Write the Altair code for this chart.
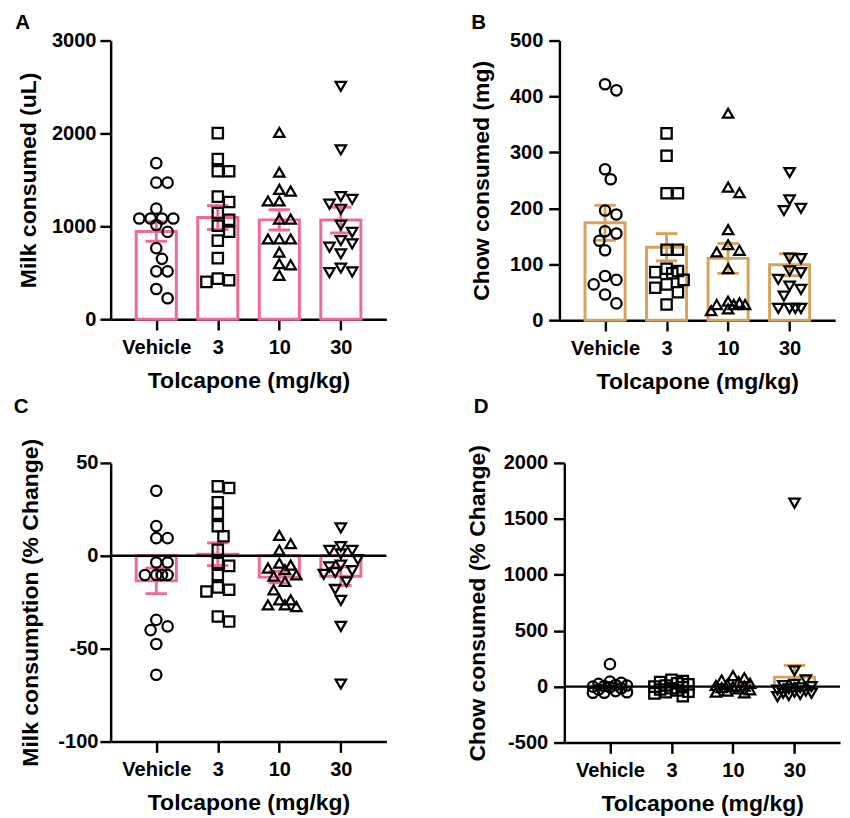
import altair as alt
import numpy as np
import pandas as pd

groups = ["Vehicle", "3", "10", "30"]
shapes = ["circle", "square", "triangle-up", "triangle-down"]
x_title = "Tolcapone (mg/kg)"

# Panel A: Milk consumed (uL)
milk_vehicle = [1680, 1470, 1470, 1190, 1085, 1085, 1085, 1085, 1015, 940, 765, 650, 515, 515, 325, 225]
milk_3 = [2003, 1725, 1593, 1593, 1320, 1262, 1142, 1070, 1006, 942, 846, 658, 437, 420, 402]
milk_10 = [2010, 1583, 1398, 1380, 1273, 1273, 1078, 1078, 864, 864, 864, 722, 598, 586, 473]
milk_30 = [2507, 1824, 1320, 1291, 1238, 1184, 1014, 935, 846, 811, 775, 704, 551, 509, 501]

# Panel B: Chow consumed (mg)
chow_vehicle = [422, 411, 270, 252, 196, 189, 159, 155, 142, 125, 79, 72, 64, 46, 30]
chow_3 = [334, 294, 227, 227, 126, 126, 92, 88, 86, 84, 72, 64, 58, 50, 28]
chow_10 = [370, 238, 228, 162, 135, 125, 122, 92, 34, 31, 28, 28, 28, 20, 17]
chow_30 = [264, 215, 200, 196, 111, 110, 88, 85, 73, 61, 55, 43, 21, 21, 21, 21]

# Panel C: Milk consumption (% Change)
milkpct_vehicle = [35, 16, 9.5, 9.5, -3.6, -3.6, -10.3, -10.3, -10.3, -10.3, -34.5, -38, -40, -47.5, -64]
milkpct_3 = [37.4, 36.5, 28.8, 22.7, 15.9, 10.5, 3.2, -3.9, -5.4, -10.3, -17, -18.3, -19.2, -32.7, -35.4]
milkpct_10 = [11, 6.5, 3, -4, -5, -6.6, -7.5, -10.3, -11, -13.8, -18.3, -23.7, -23.7, -26.4, -26.4, -27.3]
milkpct_30 = [15, 5, 3, 3, 1, -2, -5, -6, -8, -9, -10, -14, -18, -24, -38, -69]

# Panel D: Chow consumed (% Change)
chowpct_vehicle = [201, 45, 35, 25, 15, 10, 5, 0, -5, -15, -25, -40, -50, -55, -55]
chowpct_3 = [60, 50, 40, 30, 20, 10, 0, -5, -15, -25, -35, -45, -50, -60, -85]
chowpct_10 = [98, 80, 60, 45, 30, 20, 10, 5, 0, -10, -20, -30, -40, -50, -55]
chowpct_30 = [1640, 142, 60, 20, 10, 0, -10, -20, -30, -40, -50, -60, -60, -70, -80, -90]

PINK = "#EE6A9C"
TAN = "#D6A35C"
FONT = "Liberation Sans"
W = 282
STEP = 65.0  # px per category unit (for swarm layout)


def swarm(vals, px_per_unit, d=12.0, maxoff=23.0):
    """Simple beeswarm: offsets (in category units) so markers don't overlap."""
    order = np.argsort(vals)[::-1]
    placed = []
    offs = [0.0] * len(vals)
    cands = [0.0]
    k = 1
    while k * d / 2 <= maxoff:
        cands += [k * d / 2, -k * d / 2]
        k += 1
    for i in order:
        y = vals[i] * px_per_unit
        best, best_score = None, -1
        for c in cands:
            md = min([np.hypot(c - px, y - py) for px, py in placed] or [1e9])
            if md >= d * 0.95:
                best = c
                break
            if md > best_score:
                best_score, best = md, c
        placed.append((best, y))
        offs[i] = best / STEP
    return offs


def make_df(series, ppu):
    rows = []
    for gi, vals in enumerate(series):
        for v, o in zip(vals, swarm(vals, ppu)):
            rows.append({"g": gi, "grp": groups[gi], "v": v, "off": o})
    return pd.DataFrame(rows)


label_list = "[" + ",".join("'%s'" % g for g in groups) + "]"


def panel(series, ymin, ymax, ystep, ytitle, color, letter, h, zero_line,
          lab_pad, title_pad, t_dx, t_off):
    df = make_df(series, h / (ymax - ymin))
    xs = alt.Scale(domain=[-0.662, 3.661], nice=False, zero=False)
    ys = alt.Scale(domain=[ymin, ymax], nice=False, zero=False)
    xax = alt.Axis(values=[0, 1, 2, 3], labelExpr=label_list + "[datum.value]",
                   title=x_title, grid=False, labelPadding=8, titlePadding=11, tickSize=11)
    yax = alt.Axis(values=list(range(ymin, ymax + 1, ystep)), labelExpr="'' + datum.value",
                   title=ytitle, grid=False, labelPadding=lab_pad, titlePadding=title_pad, tickSize=11)
    base = alt.Chart(df)
    bars = base.mark_bar(size=41, fill="white", fillOpacity=0, stroke=color, strokeWidth=3).encode(
        x=alt.X("g:Q", scale=xs, axis=xax),
        y=alt.Y("mean(v):Q", scale=ys, axis=yax),
    )
    stats = base.transform_aggregate(m="mean(v)", s="stderr(v)", groupby=["g"]).transform_calculate(
        lo="datum.m - datum.s", hi="datum.m + datum.s")
    err = stats.mark_rule(color=color, strokeWidth=3).encode(x="g:Q", y="lo:Q", y2="hi:Q")
    cap_hi = stats.mark_tick(orient="horizontal", size=22, thickness=3, color=color, opacity=1).encode(
        x="g:Q", y="hi:Q")
    cap_lo = stats.mark_tick(orient="horizontal", size=22, thickness=3, color=color, opacity=1).encode(
        x="g:Q", y="lo:Q")
    layers = [bars, err, cap_hi, cap_lo]
    if zero_line:
        layers.append(alt.Chart(pd.DataFrame({"z": [0]})).mark_rule(color="black", strokeWidth=2.5).encode(
            y="z:Q"))
    pts = base.transform_calculate(gx="datum.g + datum.off").mark_point(
        filled=False, color="black", strokeWidth=2.3, size=112, opacity=1).encode(
        x="gx:Q", y="v:Q",
        shape=alt.Shape("grp:N", scale=alt.Scale(domain=groups, range=shapes), legend=None),
    )
    layers.append(pts)
    return alt.layer(*layers).properties(
        width=W, height=h,
        title=alt.TitleParams(text=letter, anchor="start", frame="bounds", fontSize=21,
                              fontWeight="bold", font=FONT, color="black", dx=t_dx, offset=t_off),
    )


A = panel([milk_vehicle, milk_3, milk_10, milk_30], 0, 3000, 1000, "Milk consumed (uL)", PINK, "A",
          285, False, 4, 11, -2, -2)
B = panel([chow_vehicle, chow_3, chow_10, chow_30], 0, 500, 100, "Chow consumed (mg)", TAN, "B",
          286, False, 6, 16, 1, -2)
C = panel([milkpct_vehicle, milkpct_3, milkpct_10, milkpct_30], -100, 50, 50,
          "Milk consumption (% Change)", PINK, "C", 285, True, 2, 16, -5, 22)
D = panel([chowpct_vehicle, chowpct_3, chowpct_10, chowpct_30], -500, 2000, 500,
          "Chow consumed (% Change)", TAN, "D", 286, True, 6, 14, 8, 28)

chart = alt.vconcat(
    alt.hconcat(A, B, spacing=85),
    alt.hconcat(C, D, spacing=79),
    spacing=3,
).properties(padding={"left": 5, "top": -5, "right": 0, "bottom": 0}).configure_view(
    stroke=None
).configure_axis(
    domainColor="black", domainWidth=2.5, tickColor="black", tickWidth=2.5,
    labelFont=FONT, labelFontSize=20.5, labelFontWeight="bold", labelColor="black",
    titleFont=FONT, titleFontSize=23.5, titleFontWeight="bold", titleColor="black",
)

chart.save("out.html", embed_options={"renderer": "svg", "actions": False})
